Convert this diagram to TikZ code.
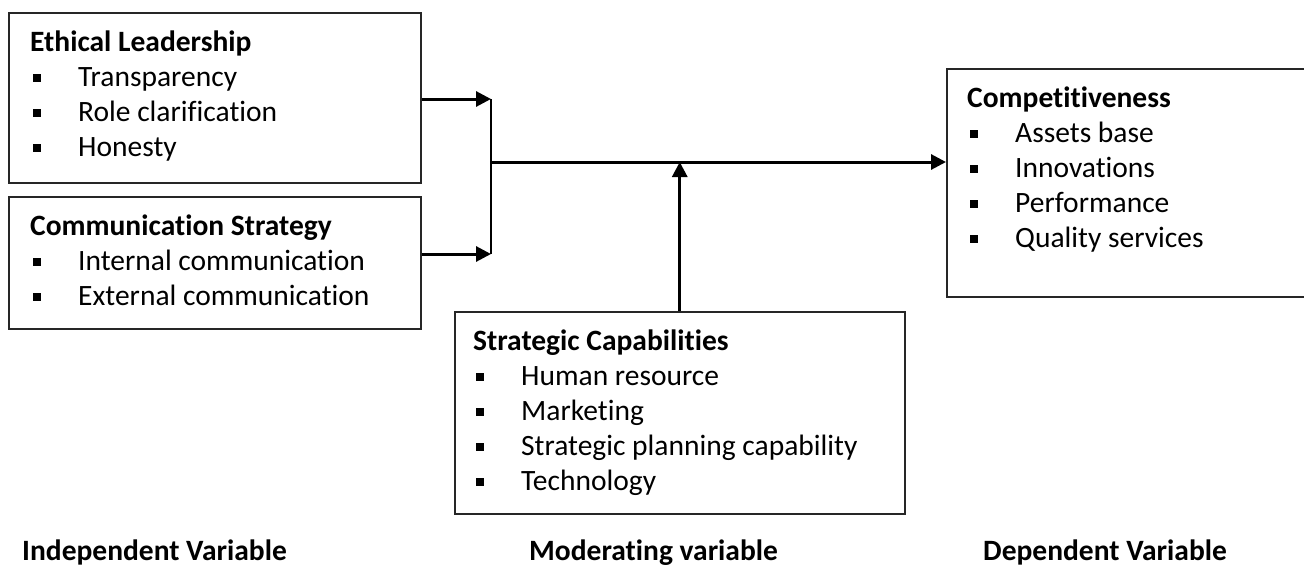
\documentclass[tikz,border=0pt]{standalone}
\usepackage{fontspec}
\setmainfont[Ligatures=NoCommon]{Carlito}
\usetikzlibrary{arrows.meta}
\newcommand\itm[1]{\makebox[48pt][l]{\hspace{2.5pt}\rule[4.5pt]{8pt}{8pt}}#1}
\begin{document}
\begin{tikzpicture}[x=1pt,y=-1pt,
  box/.style={draw=black!85, line width=1.5pt, anchor=north west, inner sep=0pt},
  lst/.style={anchor=base west, inner sep=0pt, font=\fontsize{29.5}{35}\selectfont},
  conn/.style={line width=3pt, -{Triangle[length=15pt,width=15pt]}},
  lbl/.style={anchor=base west, inner sep=0pt, font=\fontsize{29.5}{35}\selectfont\bfseries}]
\useasboundingbox (0,0) rectangle (1304,565);
% boxes
\node[box, minimum width=412pt, minimum height=170pt] (el) at (8,12) {};
\node[box, minimum width=412pt, minimum height=132pt] (cs) at (8,196) {};
\node[box, minimum width=450pt, minimum height=202pt] (sc) at (454,311) {};
\node[box, minimum width=360pt, minimum height=228pt] (ct) at (946,68) {};
% texts
\node[lst] (elt) at (30,51) {\begin{tabular}[t]{@{}l@{}}\textbf{Ethical Leadership}\\ \itm{Transparency}\\ \itm{Role clarification}\\ \itm{Honesty}\end{tabular}};
\node[lst] (cst) at (30,235) {\begin{tabular}[t]{@{}l@{}}\textbf{Communication Strategy}\\ \itm{Internal communication}\\ \itm{External communication}\end{tabular}};
\node[lst] (sct) at (473,350) {\begin{tabular}[t]{@{}l@{}}\textbf{Strategic Capabilities}\\ \itm{Human resource}\\ \itm{Marketing}\\ \itm{Strategic planning capability}\\ \itm{Technology}\end{tabular}};
\node[lst] (ctt) at (967,107) {\begin{tabular}[t]{@{}l@{}}\textbf{Competitiveness}\\ \itm{Assets base}\\ \itm{Innovations}\\ \itm{Performance}\\ \itm{Quality services}\end{tabular}};
% connectors
\coordinate (jt) at (491,99);
\coordinate (jb) at (491,254);
\coordinate (jm) at (491,162);
\draw[conn] (el.east |- jt) -- (jt);
\draw[conn] (cs.east |- jb) -- (jb);
\draw[line width=2.6pt] (jt) -- (jb);
\draw[conn] (jm) -- (jm -| ct.west);
\draw[conn] (sc.north) -- (sc.north |- jm);
% bottom labels
\node[lbl] (iv) at (22,560) {Independent Variable};
\node[lbl] (mv) at (529,560) {Moderating variable};
\node[lbl] (dv) at (983,560) {Dependent Variable};
\end{tikzpicture}
\end{document}
